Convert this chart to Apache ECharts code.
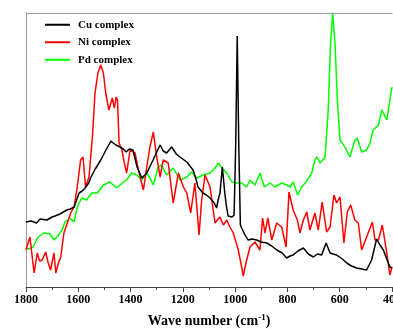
<!DOCTYPE html>
<html>
<head>
<meta charset="utf-8">
<script src="https://cdn.jsdelivr.net/npm/echarts@6/dist/echarts.min.js"></script>
<style>
html,body{margin:0;padding:0;background:#fff;}
#chart{width:393px;height:329px;}
</style>
</head>
<body>
<div id="chart"></div>
<script>
// Wave numbers (cm-1) and relative intensities (arbitrary units)
var seriesNames = ['Cu complex', 'Ni complex', 'Pd complex'];
var xTickValues = [1800, 1600, 1400, 1200, 1000, 800, 600, 400];

var cuWave = [1800,1780,1760,1746,1720,1700,1689,1670,1644,1630,1616,1605,1597,1585,1574,1560,1553,1535,1514,1494,1475,1466,1456,1440,1428,1417,1405,1391,1375,1357,1338,1314,1300,1287,1275,1262,1243,1225,1211,1185,1161,1150,1142,1123,1110,1096,1080,1071,1065,1058,1049,1040,1034,1027,1012,1004,998,992,986,980,975,962,951,935,918,900,879,860,841,820,803,790,778,760,739,720,701,685,669,652,637,625,612,590,573,555,535,515,497,478,459,446,433,420,408,400];
var cuValue = [65,66,64,68,67,70,71,73,77,78,80,88,94,96,99,104,109,118,127,137,146,144,142,140,138,135,138,137,120,109,114,127,135,142,136,134,140,133,130,125,117,108,100,94,92,89,84,79,87,94,120,95,82,71,70,72,140,251,140,62,59,52,47,48,47,45,44,41,37,34,29,31,32,36,39,33,30,33,32,44,34,33,32,28,24,21,19,18,17,27,48,42,37,28,20,19];

var niWave = [1800,1785,1769,1757,1748,1738,1725,1715,1706,1693,1686,1676,1667,1655,1642,1629,1616,1604,1591,1582,1572,1559,1546,1536,1525,1514,1509,1504,1495,1483,1470,1462,1455,1450,1444,1433,1424,1415,1402,1383,1370,1351,1338,1326,1313,1300,1287,1275,1256,1237,1217,1198,1185,1170,1154,1138,1128,1115,1096,1077,1058,1045,1032,1020,1007,988,975,969,956,943,924,905,895,886,875,860,841,822,805,794,778,762,752,739,726,714,695,682,667,650,637,622,612,599,584,571,558,542,529,516,497,475,465,452,437,420,408,400];
var niValue = [37,50,14,34,26,27,35,24,17,34,14,24,30,54,64,74,80,100,127,130,100,110,150,194,214,222,224,214,194,177,189,179,190,187,144,137,124,114,137,134,117,97,120,140,155,130,110,127,124,84,114,100,94,74,104,52,87,112,100,64,70,62,67,60,54,37,20,11,27,40,45,37,69,54,69,47,64,60,40,95,77,67,54,67,75,57,74,57,85,55,60,92,84,90,44,75,82,67,64,37,50,65,47,47,62,34,12,20];

var pdWave = [1800,1790,1773,1754,1731,1708,1693,1678,1662,1651,1632,1616,1604,1587,1568,1549,1527,1504,1479,1453,1432,1415,1396,1377,1357,1338,1326,1313,1294,1281,1262,1237,1211,1185,1166,1147,1122,1096,1077,1064,1051,1032,1013,994,975,956,943,924,905,888,867,848,822,803,790,778,761,745,726,707,695,688,675,656,644,635,627,618,609,599,580,561,542,533,516,497,484,472,452,439,420,408,400];
var pdValue = [39,38,40,50,54,53,47,51,57,65,69,65,80,89,87,94,94,102,105,99,104,107,114,112,107,114,109,102,120,122,112,119,107,110,115,109,112,114,119,124,119,114,105,104,104,100,107,102,114,100,104,100,104,102,100,105,92,100,106,114,127,130,124,130,177,244,274,244,187,147,140,130,147,149,135,137,144,157,162,177,167,187,200];

function pairs(xs, ys) {
  var out = [];
  for (var i = 0; i < xs.length; i++) out.push([xs[i], ys[i]]);
  return out;
}

var chart = echarts.init(document.getElementById('chart'), null, {renderer: 'canvas'});
var serif = "'Liberation Serif', 'Times New Roman', serif";
var colors = ['#000000', '#ff0000', '#00ff00'];
var dataSets = [pairs(cuWave, cuValue), pairs(niWave, niValue), pairs(pdWave, pdValue)];

chart.setOption({
  animation: false,
  backgroundColor: '#ffffff',
  grid: {left: 26, right: 1, top: 13, bottom: 42, containLabel: false, outerBoundsMode: 'none'},
  legend: {
    orient: 'vertical',
    left: 45,
    top: 17,
    padding: 0,
    icon: 'rect',
    itemWidth: 25,
    itemHeight: 2,
    itemGap: 2,
    data: seriesNames,
    textStyle: {fontFamily: serif, fontWeight: 'bold', fontSize: 11, color: '#000', lineHeight: 15.5, padding: [0, 0, 0, 3]}
  },
  xAxis: [{
    type: 'value',
    inverse: true,
    min: 400,
    max: 1800,
    interval: 200,
    axisLine: {show: true, onZero: false, lineStyle: {color: '#444', width: 1}},
    axisTick: {show: true, inside: false, length: 5, lineStyle: {color: '#444'}},
    minorTick: {show: true, splitNumber: 2, length: 3, lineStyle: {color: '#444'}},
    splitLine: {show: false},
    axisLabel: {
      margin: 7, color: '#000', fontFamily: serif, fontWeight: 'bold', fontSize: 12,
      hideOverlap: false,
      formatter: function (v) { return xTickValues.indexOf(v) >= 0 ? String(v) : ''; }
    },
    name: '{a|Wave number (cm}{s|-1}{a|)}',
    nameLocation: 'middle',
    nameGap: 26,
    nameTextStyle: {
      rich: {
        a: {fontFamily: serif, fontWeight: 'bold', fontSize: 14, color: '#000'},
        s: {fontFamily: serif, fontWeight: 'bold', fontSize: 9, color: '#000', verticalAlign: 'top', padding: [0, 0, 7, 0]}
      }
    }
  }, {
    type: 'value',
    position: 'top',
    inverse: true,
    min: 400,
    max: 1800,
    axisLine: {show: true, onZero: false, lineStyle: {color: '#999', width: 1}},
    axisTick: {show: false},
    axisLabel: {show: false},
    splitLine: {show: false}
  }],
  yAxis: {
    type: 'value',
    min: 0,
    max: 274,
    axisLine: {show: true, onZero: false, lineStyle: {color: '#999', width: 1}},
    axisTick: {show: false},
    axisLabel: {show: false},
    splitLine: {show: false}
  },
  series: seriesNames.map(function (n, i) {
    return {
      name: n,
      type: 'line',
      xAxisIndex: 0,
      data: dataSets[i],
      showSymbol: false,
      symbol: 'none',
      color: colors[i],
      lineStyle: {color: colors[i], width: 1.5},
      z: i === 0 ? 4 : (i === 1 ? 3 : 2)
    };
  })
});
</script>
</body>
</html>
